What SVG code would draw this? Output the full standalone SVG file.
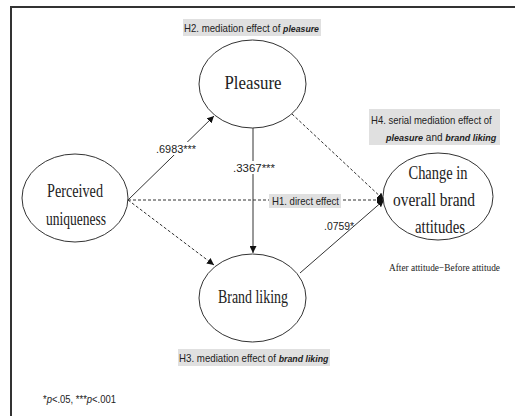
<svg xmlns="http://www.w3.org/2000/svg" width="515" height="416" viewBox="0 0 515 416">
<style>
.node{fill:#fff;stroke:#333;stroke-width:1}
.nt{font-family:"Liberation Serif","Times New Roman",serif;font-size:19px;fill:#222;text-anchor:middle}
.lab{font-family:"Liberation Sans",Arial,sans-serif;font-size:10.5px;fill:#222}
.coef{font-family:"Liberation Sans",Arial,sans-serif;font-size:11px;fill:#222;text-anchor:middle}
.box{fill:#e0e0e0}
.solid{stroke:#333;stroke-width:1;fill:none}
.dash{stroke:#333;stroke-width:1;fill:none;stroke-dasharray:3 2}
.bi{font-weight:bold;font-style:italic;font-size:9.5px}
</style>
<defs>
<marker id="ah" viewBox="0 0 10 10" refX="10" refY="5" markerWidth="7" markerHeight="7" markerUnits="userSpaceOnUse" orient="auto">
<path d="M0,0 L10,5 L0,10 z" fill="#111"/>
</marker>
</defs>
<rect width="515" height="416" fill="#fff"/>
<path d="M11,416 V7 H515" fill="none" stroke="#333" stroke-width="2"/>

<g id="connectors">
<line class="solid" x1="128" y1="200" x2="214" y2="116" marker-end="url(#ah)"/>
<line class="dash" x1="128" y1="200" x2="384" y2="200" marker-end="url(#ah)"/>
<line class="dash" x1="128" y1="200" x2="214" y2="265" marker-end="url(#ah)"/>
<line class="solid" x1="253" y1="128" x2="253" y2="253" marker-end="url(#ah)"/>
<line class="dash" x1="292" y1="114" x2="384" y2="200" marker-end="url(#ah)"/>
<line class="solid" x1="300" y1="273" x2="384" y2="200" marker-end="url(#ah)"/>
<rect x="155" y="142" width="42" height="13" fill="#fff"/>
<text class="coef" x="176" y="153" textLength="40" lengthAdjust="spacingAndGlyphs">.6983***</text>
<rect x="232" y="161" width="43" height="13" fill="#fff"/>
<text class="coef" x="254" y="172" textLength="42" lengthAdjust="spacingAndGlyphs">.3367***</text>
<text class="coef" x="339" y="230" textLength="30" lengthAdjust="spacingAndGlyphs">.0759*</text>
<rect class="box" x="269" y="194" width="72" height="14"/>
<text class="lab" x="272" y="205" textLength="67" lengthAdjust="spacingAndGlyphs">H1. direct effect</text>
</g>

<g id="pleasure">
<ellipse class="node" cx="252.5" cy="84" rx="53.5" ry="44"/>
<text class="nt" x="253" y="89" textLength="57" lengthAdjust="spacingAndGlyphs">Pleasure</text>
</g>

<g id="perceived-uniqueness">
<ellipse class="node" cx="75" cy="198" rx="53" ry="44"/>
<text class="nt" x="75" y="197" textLength="56" lengthAdjust="spacingAndGlyphs">Perceived</text>
<text class="nt" x="76" y="225" textLength="60" lengthAdjust="spacingAndGlyphs">uniqueness</text>
</g>

<g id="change-attitudes">
<ellipse class="node" cx="438" cy="196.5" rx="55" ry="43.5"/>
<text class="nt" x="438" y="179" textLength="59" lengthAdjust="spacingAndGlyphs">Change in</text>
<text class="nt" x="434" y="206" textLength="82" lengthAdjust="spacingAndGlyphs">overall brand</text>
<text class="nt" x="440" y="233" textLength="50" lengthAdjust="spacingAndGlyphs">attitudes</text>
</g>

<g id="brand-liking">
<ellipse class="node" cx="252.5" cy="298" rx="53.5" ry="44"/>
<text class="nt" x="253" y="303" textLength="70" lengthAdjust="spacingAndGlyphs">Brand liking</text>
</g>

<g id="h2">
<rect class="box" x="183" y="19" width="138" height="17"/>
<text class="lab" transform="translate(184,32) scale(0.92,1)">H2. mediation effect of <tspan class="bi">pleasure</tspan></text>
</g>

<g id="h3">
<rect class="box" x="178" y="349" width="152" height="17"/>
<text class="lab" transform="translate(179,362) scale(0.925,1)">H3. mediation effect of <tspan class="bi">brand liking</tspan></text>
</g>

<g id="h4">
<rect class="box" x="369" y="109" width="131" height="36"/>
<text class="lab" transform="translate(371,124) scale(0.91,1)">H4. serial mediation effect of</text>
<text class="lab" transform="translate(386,141) scale(0.95,1)"><tspan class="bi">pleasure</tspan> and <tspan class="bi">brand liking</tspan></text>
</g>

<text x="389" y="271" font-family="Liberation Serif, 'Times New Roman', serif" font-size="10.5" fill="#222" textLength="111" lengthAdjust="spacingAndGlyphs">After attitude−Before attitude</text>

<text class="lab" transform="translate(43,403) scale(0.9,1)">*<tspan font-style="italic">p</tspan>&lt;.05, ***<tspan font-style="italic">p</tspan>&lt;.001</text>
</svg>
